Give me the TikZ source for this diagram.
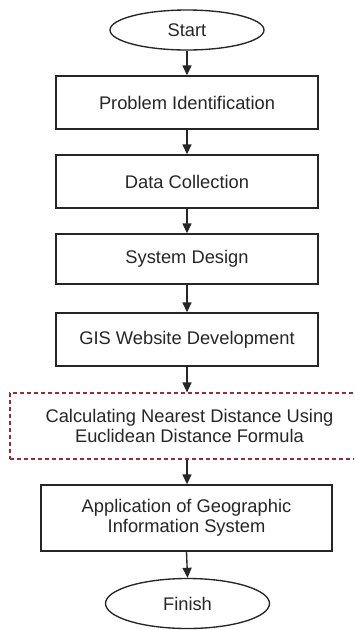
\documentclass[tikz,border=0pt]{standalone}
\usepackage{fontspec}
\setmainfont{Liberation Sans}
\usetikzlibrary{arrows.meta,shapes.geometric}
\definecolor{ink}{HTML}{262626}
\definecolor{dashred}{HTML}{8E2F3C}
\tikzset{
  every node/.style={font=\fontsize{18.3}{20}\selectfont, text=ink},
  procbox/.style={draw=ink, line width=1.35pt, rectangle, inner sep=0pt, align=center},
  terminal/.style={draw=ink, line width=1.35pt, ellipse, inner sep=0pt},
  optbox/.style={draw=dashred, line width=1.2pt, dash pattern=on 4pt off 3pt, rectangle, inner sep=0pt, align=center},
  flow/.style={draw=ink, line width=1.35pt, -{Triangle[width=9pt,length=10pt]}}
}
\begin{document}
\begin{tikzpicture}[x=1pt,y=-1pt]
  \fill[white] (0,0) rectangle (354,630);
  \useasboundingbox (0,0) rectangle (354,630);
  \clip (0,0) rectangle (354,630);

  \node[terminal, minimum width=154pt, minimum height=40pt] (start) at (187,30) {Start};
  \node[procbox, minimum width=262pt, minimum height=53pt] (ident) at (187,102.5) {Problem Identification};
  \node[procbox, minimum width=262pt, minimum height=53pt] (collect) at (187,181.5) {Data Collection};
  \node[procbox, minimum width=262pt, minimum height=50pt] (design) at (187,259) {System Design};
  \node[procbox, minimum width=262pt, minimum height=53pt] (gisweb) at (187,339.5) {GIS Website Development};
  \node[optbox, minimum width=359pt, minimum height=66pt] (calc) at (189.5,426)
    {Calculating Nearest Distance Using\\Euclidean Distance Formula};
  \node[procbox, minimum width=291pt, minimum height=66pt] (apply) at (186.5,518)
    {Application of Geographic\\Information System};
  \node[terminal, minimum width=164pt, minimum height=50pt] (finish) at (187.5,603.5) {Finish};

  \draw[flow] (start.south) -- (ident.north);
  \draw[flow] (ident.south) -- (collect.north);
  \draw[flow] (collect.south) -- (design.north);
  \draw[flow] (design.south) -- (gisweb.north);
  \draw[flow] (gisweb.south) -- (gisweb.south |- calc.north);
  \draw[flow] (gisweb.south |- calc.south) -- (gisweb.south |- apply.north);
  \draw[flow] (apply.south) -- (finish.north);
\end{tikzpicture}
\end{document}
